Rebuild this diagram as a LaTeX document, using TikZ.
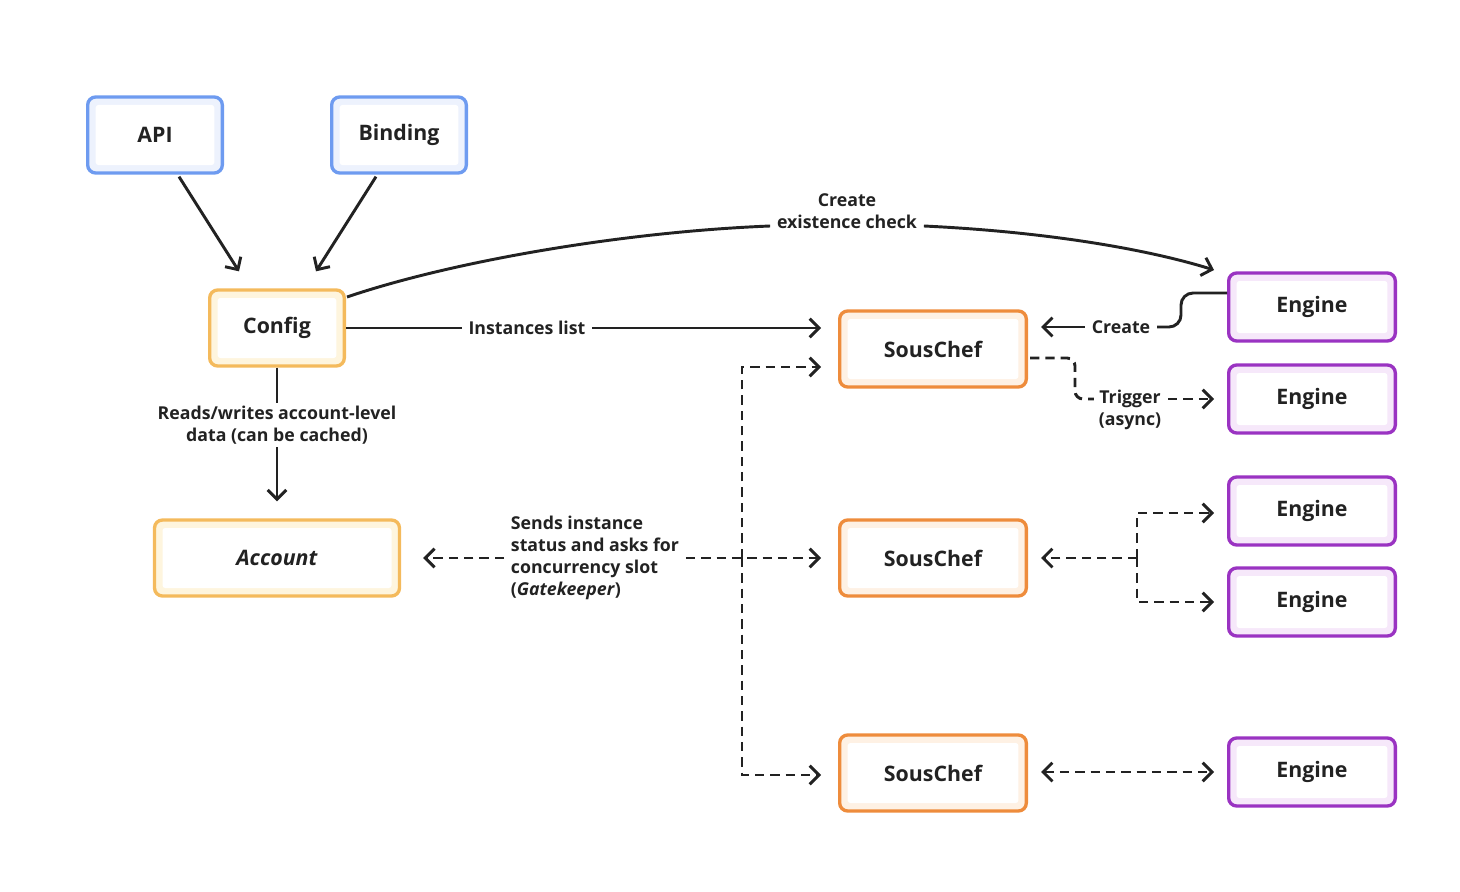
\documentclass[tikz,border=0pt]{standalone}
\usepackage{fontspec}
\setmainfont{Open Sans}
\usetikzlibrary{arrows.meta,calc}
\definecolor{txt}{HTML}{222222}
\definecolor{bluB}{HTML}{6E9BF0}
\definecolor{bluF}{HTML}{EDF2FD}
\definecolor{yelB}{HTML}{F4BA5C}
\definecolor{yelF}{HTML}{FEF5DE}
\definecolor{orgB}{HTML}{EE8C3C}
\definecolor{orgF}{HTML}{FEF1E4}
\definecolor{purB}{HTML}{9A33C2}
\definecolor{purF}{HTML}{F6E8FA}
\tikzset{
  bx/.style 2 args={draw=#1, fill=#2, line width=2.5pt, rounded corners=6pt,
    minimum width=101pt, minimum height=57pt, text=txt,
    font=\fontsize{16}{19}\selectfont\bfseries,
    path picture={\fill[white, rounded corners=2pt]
      ([shift={(6pt,-6pt)}]path picture bounding box.north west) rectangle
      ([shift={(-6pt,6pt)}]path picture bounding box.south east);}},
  bluebox/.style={bx={bluB}{bluF}},
  yelbox/.style={bx={yelB}{yelF}},
  orgbox/.style={bx={orgB}{orgF}, minimum width=140pt},
  purbox/.style={bx={purB}{purF}, minimum width=125pt, minimum height=51pt},
  lbl/.style={text=txt, align=center, inner xsep=5pt, inner ysep=2pt,
    font=\fontsize{13.3}{16.5}\selectfont\bfseries},
  tip/.tip={Straight Barb[length=7pt,width=14pt,line width=2.2pt]},
  ln/.style={draw=txt, line width=2.2pt},
  arr/.style={ln, -tip},
  darr/.style={arr, dash pattern=on 7pt off 4.5pt},
}
\begin{document}
\begin{tikzpicture}[x=0.75pt,y=-0.75pt]
\useasboundingbox (0,0) rectangle (1460,892);

% boxes
\node[bluebox] (api) at (155,135) {API};
\node[bluebox] (binding) at (399,135) {Binding};
\node[yelbox] (config) at (277,328) {Config};
\node[yelbox, minimum width=183.75pt] (account) at (277,558) {\textit{Account}};
\node[orgbox] (sc1) at (933,349) {SousChef};
\node[orgbox] (sc2) at (933,558) {SousChef};
\node[orgbox] (sc3) at (933,773) {SousChef};
\node[purbox] (e1) at (1312,307) {Engine};
\node[purbox] (e2) at (1312,399) {Engine};
\node[purbox] (e3) at (1312,511) {Engine};
\node[purbox] (e4) at (1312,602) {Engine};
\node[purbox] (e5) at (1312,772) {Engine};

% labels
\node[lbl] (lce) at (847,211) {Create\\existence check};
\node[lbl] (linst) at (527,328) {Instances list};
\node[lbl] (lcr) at (1121,327) {Create};
\node[lbl] (ltr) at (1130,410) {Trigger\\(async)};
\node[lbl] (lrw) at (277,425) {Reads/writes account-level\\data (can be cached)};
\node[lbl, align=left, anchor=west] (lgk) at (504,558) {Sends instance\\status and asks for\\concurrency slot\\(\textit{Gatekeeper})};

% API / Binding -> Config
\draw[arr] ($(api.south)+(24,2)$) -- ($(config.north)+(-38,-17)$);
\draw[arr] ($(binding.south)+(-23,2)$) -- ($(config.north)+(39,-17)$);

% Config -> Engine (curve, through label)
\draw[ln] ($(config.east)+(1,-31)$) .. controls (450,262) and (620,232) .. (lce.west |- 0,226);
\draw[arr] (lce.east |- 0,226) .. controls (1050,232) and (1150,250) .. ($(e1.west)+(-13,-37)$);

% Config -> SousChef1
\draw[ln] (config.east) -- (linst.west);
\draw[arr] (linst.east) -- ($(sc1.west |- config.east)+(-17,0)$);

% Engine1 -> SousChef1 (Create)
\coordinate (ck) at (1181,327);
\draw[ln, rounded corners=9pt] ($(e1.west)+(0,-14)$) -| (ck) -- (lcr.east);
\draw[arr] (lcr.west) -- ($(sc1.east |- lcr.west)+(13,0)$);

% SousChef1 -> Engine2 (Trigger)
\coordinate (tk) at (1075,399);
\draw[ln, dash pattern=on 7pt off 4.5pt, rounded corners=6pt]
  ($(sc1.east)+(2,9)$) -| (tk) -- ($(tk -| ltr.west)+(2,0)$);
\draw[darr] (ltr.east |- e2.west) -- ($(e2.west)+(-13,0)$);

% Config -> Account
\draw[ln] (config.south) -- (lrw.north);
\draw[arr] (lrw.south) -- ($(account.north)+(0,-17)$);

% Gatekeeper network
\coordinate (J) at (742,558);
\draw[darr] (lgk.west) -- ($(account.east)+(22,0)$);
\draw[darr] (lgk.east) -- ($(sc2.west)+(-17,0)$);
\draw[darr] (J) |- ($(sc1.west)+(-17,18)$);
\draw[darr] (J) |- ($(sc3.west)+(-17,2)$);

% SousChef2 <-> Engines 3,4
\coordinate (K) at (1137,558);
\draw[darr] (K) -- ($(sc2.east)+(13,0)$);
\draw[darr] (K) |- ($(e3.west)+(-13,2)$);
\draw[darr] (K) |- ($(e4.west)+(-13,0)$);

% SousChef3 <-> Engine5
\draw[darr, tip-tip] ($(sc3.east |- e5.west)+(13,0)$) -- ($(e5.west)+(-13,0)$);
\end{tikzpicture}
\end{document}
